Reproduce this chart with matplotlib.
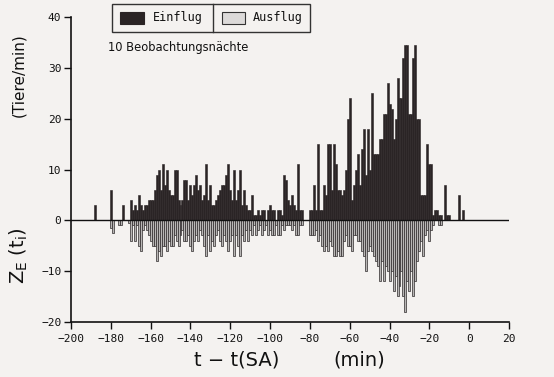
import numpy as np
import matplotlib
matplotlib.use('Agg')
import matplotlib.pyplot as plt
from matplotlib.patches import Rectangle

# minutes relative to sunset, one bar per minute
minutes = np.arange(-192, -1)

# Einflug (entering), per minute, -192 .. -2
einflug = [
    0, 0, 0, 0, 3, 0, 0, 0, 0, 0,        # -192 .. -183
    0, 0, 6, 0, 0, 0, 0, 0, 3, 0,        # -182 .. -173
    0, 0, 4, 2, 3, 2, 5, 3, 2, 3,        # -172 .. -163
    3, 4, 4, 4, 6, 9, 10, 6, 11, 7,      # -162 .. -153
    10, 6, 5, 5, 10, 10, 4, 3, 4, 8,     # -152 .. -143
    8, 4, 7, 5, 7, 9, 6, 7, 4, 5,        # -142 .. -133
    11, 4, 7, 3, 3, 4, 5, 6, 7, 7,       # -132 .. -123
    9, 11, 6, 4, 10, 4, 6, 10, 3, 6,     # -122 .. -113
    3, 2, 2, 5, 1, 1, 2, 1, 2, 2,        # -112 .. -103
    0, 2, 3, 2, 2, 0, 2, 2, 1, 9,        # -102 .. -93
    8, 4, 3, 5, 3, 2, 11, 2, 2, 0,       # -92 .. -83
    0, 0, 2, 2, 7, 2, 15, 2, 2, 7,       # -82 .. -73
    5, 15, 15, 6, 15, 11, 6, 6, 5, 6,    # -72 .. -63
    10, 20, 24, 4, 7, 10, 13, 7, 14, 18, # -62 .. -53
    9, 18, 10, 25, 13, 13, 13, 16, 16, 21,  # -52 .. -43
    21, 27, 23, 22, 16, 20, 28, 24, 24, 32,  # -42 .. -33
    34.5, 34.5, 21, 21, 32, 34.5, 20, 20, 5, 5,  # -32 .. -23
    5, 15, 11, 11, 1, 2, 2, 1, 1, 0,     # -22 .. -13
    7, 1, 1, 0, 0, 0, 0, 5, 0, 2,        # -12 .. -3
    0,                                   # -2
]

# Ausflug (leaving), per minute, -192 .. -2
ausflug = [
    0, 0, 0, 0, 0, 0, 0, 0, 0, 0,
    0, 0, -1.5, -2.5, 0, 0, -1, -1, 0, 0,
    0, -0.5, -4, -1, -4, -1, -5, -6, -2, -1,
    -2, -3, -4, -5, -5, -8, -6, -7, -5, -5,
    -6, -4, -5, -5, -3, -4, -5, -3, -2, -4,
    -4, -3, -5, -6, -4, -3, -4, -2, -3, -5,
    -7, -3, -6, -4, -5, -3, -2, -4, -5, -3,
    -4, -6, -4, -3, -7, -3, -5, -7, -3, -4,
    -2, -4, -2, -3, -1, -3, -2, -1, -3, -2,
    -1, -3, -2, -3, -3, -1, -3, -3, -1, -2,
    -1, -1, -1, -2, -1, -3, -3, -1, -1, 0,
    0, 0, -3, -3, -3, -2, -4, -3, -5, -6,
    -5, -6, -4, -5, -7, -7, -6, -7, -7, -4,
    -3, -5, -5, -6, -3, -3, -4, -4, -6, -7,
    -10, -6, -5, -6, -7, -8, -9, -12, -8, -12,
    -9, -10, -12, -10, -14, -11, -15, -13, -10, -15,
    -18, -12, -14, -10, -15, -12, -8, -6, -4, -7,
    -3, -2, -4, -2, -1, 0, 0, -1, -1, 0,
    0, 0, 0, 0, 0, 0, 0, 0, 0, 0,
    0,
]

bg = '#f4f2f0'
dark = '#2a2425'

fig = plt.figure(figsize=(5.54, 3.77), dpi=100, facecolor=bg)
ax = fig.add_axes([71 / 554, 1 - 321.7 / 377, 438 / 554, 304.4 / 377])
ax.set_facecolor(bg)

ax.bar(minutes, einflug, width=1.0, align='center', color=dark,
       edgecolor=dark, linewidth=0.4, zorder=2)
ax.bar(minutes, ausflug, width=1.0, align='center', color='#b8b6b5',
       edgecolor='#2e2a2b', linewidth=0.5, zorder=2)
ax.axhline(0, color='#111111', lw=1.0, zorder=3)

ax.set_xlim(-200, 20)
ax.set_ylim(-20, 40)
for s in ['top', 'right']:
    ax.spines[s].set_visible(False)
for s in ['left', 'bottom']:
    ax.spines[s].set_linewidth(1.2)
    ax.spines[s].set_color('#111111')

ax.set_xticks(np.arange(-200, 21, 20))
ax.set_yticks(np.arange(-20, 41, 10))
ax.tick_params(axis='both', direction='out', length=5, width=1.0,
               colors='#111111', labelsize=8)
ax.tick_params(axis='x', pad=4)
ax.tick_params(axis='y', pad=2)
for lab in ax.get_xticklabels() + ax.get_yticklabels():
    lab.set_family('DejaVu Sans Mono')

# axis labels
fig.text(237 / 554, 1 - 360 / 377, 't \u2212 t(SA)', ha='center', va='center',
         fontsize=14, color='#111111')
fig.text(359 / 554, 1 - 360 / 377, '(min)', ha='center', va='center',
         fontsize=14, color='#111111')
fig.text(19 / 554, 1 - 75 / 377, '(Tiere/min)', ha='center', va='center',
         rotation=90, fontsize=11, color='#111111')
fig.text(19 / 554, 1 - 256 / 377, r'Z$_\mathregular{E}$ (t$_\mathregular{i}$)',
         ha='center', va='center', rotation=90, fontsize=14, color='#111111')

# legend box drawn by hand
def fx(px):
    return px / 554

def fy(py):
    return 1 - py / 377

fig.patches.append(Rectangle((fx(112), fy(32)), fx(310) - fx(112), fy(4) - fy(32),
                             transform=fig.transFigure, facecolor='none',
                             edgecolor='#333333', lw=1.0))
fig.lines.append(plt.Line2D([fx(213), fx(213)], [fy(32), fy(4)],
                            transform=fig.transFigure, color='#333333', lw=1.0))
fig.patches.append(Rectangle((fx(120), fy(24)), fx(144) - fx(120), fy(12) - fy(24),
                             transform=fig.transFigure, facecolor=dark,
                             edgecolor=dark, lw=0.8))
fig.patches.append(Rectangle((fx(222), fy(24)), fx(245) - fx(222), fy(12) - fy(24),
                             transform=fig.transFigure, facecolor='#dcdad9',
                             edgecolor='#333333', lw=0.8))
fig.text(fx(153), fy(18), 'Einflug', ha='left', va='center', fontsize=8.5,
         family='DejaVu Sans Mono', color='#111111')
fig.text(fx(253), fy(18), 'Ausflug', ha='left', va='center', fontsize=8.5,
         family='DejaVu Sans Mono', color='#111111')

fig.text(fx(108), fy(48), '10 Beobachtungsn\u00e4chte', ha='left', va='center',
         fontsize=8.3, color='#111111')

fig.savefig('out.png', dpi=100, facecolor=bg)
